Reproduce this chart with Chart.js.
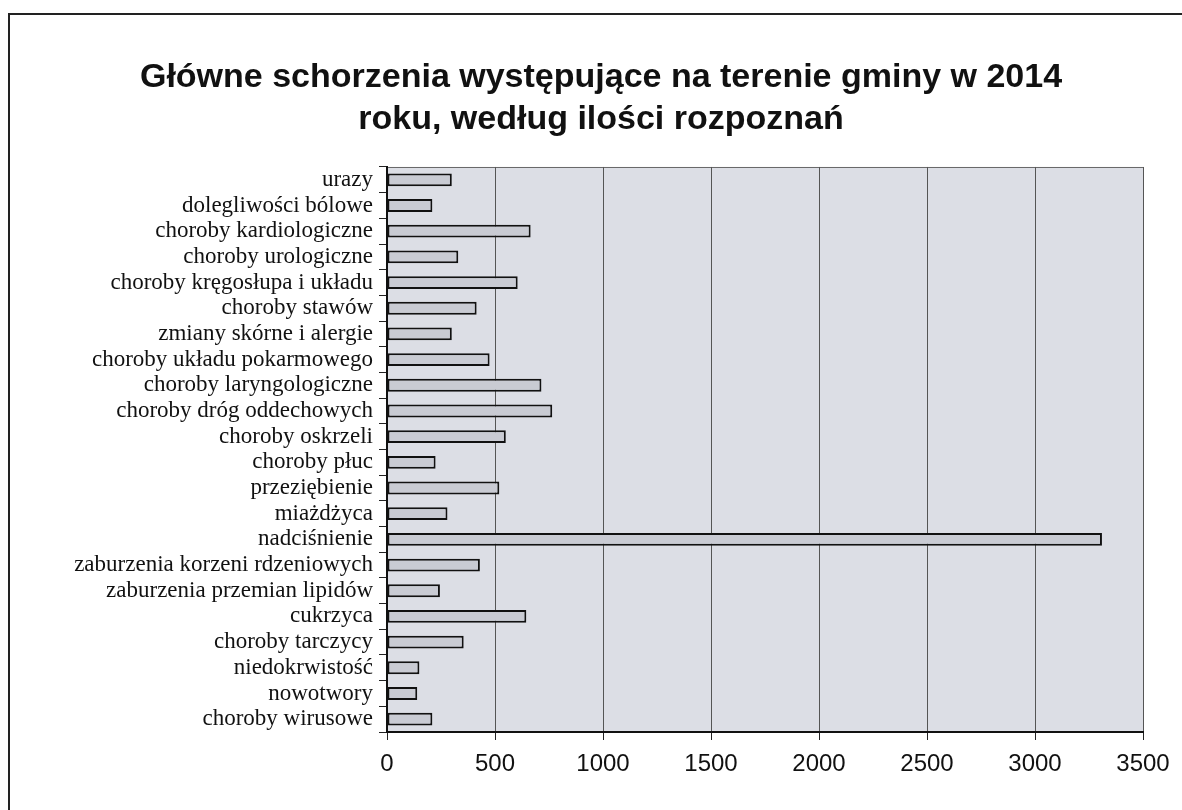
<!DOCTYPE html>
<html>
<head>
<meta charset="utf-8">
<script src="https://cdn.jsdelivr.net/npm/chart.js@4.4.1/dist/chart.umd.min.js"></script>
<style>
html,body{margin:0;padding:0;background:#fff;}
#wrap{width:1182px;height:810px;position:relative;}
</style>
</head>
<body>
<div id="wrap"><canvas id="c" width="1182" height="810"></canvas></div>
<script>
const categories = [
  "urazy",
  "dolegliwości bólowe",
  "choroby kardiologiczne",
  "choroby urologiczne",
  "choroby kręgosłupa i układu",
  "choroby stawów",
  "zmiany skórne i alergie",
  "choroby układu pokarmowego",
  "choroby laryngologiczne",
  "choroby dróg oddechowych",
  "choroby oskrzeli",
  "choroby płuc",
  "przeziębienie",
  "miażdżyca",
  "nadciśnienie",
  "zaburzenia korzeni rdzeniowych",
  "zaburzenia przemian lipidów",
  "cukrzyca",
  "choroby tarczycy",
  "niedokrwistość",
  "nowotwory",
  "choroby wirusowe"
];
const diagnoses = [300, 210, 665, 330, 605, 415, 300, 475, 715, 765, 550, 225, 520, 280, 3310, 430, 245, 645, 355, 150, 140, 210];
const xTicks = [0, 500, 1000, 1500, 2000, 2500, 3000, 3500];
const titleLines = ["Główne schorzenia występujące na terenie gminy w 2014", "roku, według ilości rozpoznań"];

const framePlugin = {
  id: 'frame',
  beforeDraw(chart) {
    const ctx = chart.ctx, a = chart.chartArea;
    ctx.save();
    ctx.fillStyle = '#ffffff';
    ctx.fillRect(0, 0, chart.width, chart.height);
    ctx.strokeStyle = '#222';
    ctx.lineWidth = 2;
    ctx.beginPath();
    ctx.moveTo(9, chart.height);
    ctx.lineTo(9, 14);
    ctx.lineTo(chart.width, 14);
    ctx.stroke();
    ctx.fillStyle = '#dcdee5';
    ctx.fillRect(a.left, a.top, a.right - a.left, a.bottom - a.top);
    ctx.strokeStyle = '#666';
    ctx.lineWidth = 1;
    ctx.beginPath();
    ctx.moveTo(a.left, a.top + 0.5);
    ctx.lineTo(a.right, a.top + 0.5);
    ctx.stroke();
    ctx.restore();
  }
};

new Chart(document.getElementById('c'), {
  type: 'bar',
  data: {
    labels: categories,
    datasets: [{
      data: diagnoses,
      backgroundColor: '#c9cbd3',
      borderColor: '#111111',
      borderWidth: 2,
      borderSkipped: false,
      barPercentage: 0.5,
      categoryPercentage: 1.0
    }]
  },
  options: {
    indexAxis: 'y',
    responsive: false,
    animation: false,
    devicePixelRatio: 1,
    layout: { padding: { left: 59, right: 39, top: 0, bottom: 0 } },
    plugins: {
      legend: { display: false },
      tooltip: { enabled: false },
      title: {
        display: true,
        text: titleLines,
        color: '#111',
        font: { family: 'Liberation Sans, Arial, sans-serif', size: 34, weight: 'bold', lineHeight: 1.235 },
        padding: { top: 57, bottom: 26 }
      }
    },
    scales: {
      x: {
        min: 0,
        max: 3500,
        afterBuildTicks(scale) { scale.ticks = xTicks.map(v => ({ value: v })); },
        afterFit(scale) { scale.height = 78; },
        grid: { color: '#555', lineWidth: 1, drawOnChartArea: true, drawTicks: true, tickLength: 8, tickColor: '#222' },
        border: { display: true, color: '#111', width: 2 },
        ticks: {
          color: '#111', padding: 10,
          font: { family: 'Liberation Sans, Arial, sans-serif', size: 24 },
          callback: (v) => String(v)
        }
      },
      y: {
        afterFit(scale) { scale.width = 328; },
        grid: { offset: true, drawOnChartArea: false, drawTicks: true, tickLength: 8, tickColor: '#222', color: '#222' },
        border: { display: true, color: '#111', width: 2 },
        ticks: { color: '#111', padding: 6, autoSkip: false, font: { family: 'Liberation Serif, Times New Roman, serif', size: 23 } }
      }
    }
  },
  plugins: [framePlugin]
});
</script>
</body>
</html>
